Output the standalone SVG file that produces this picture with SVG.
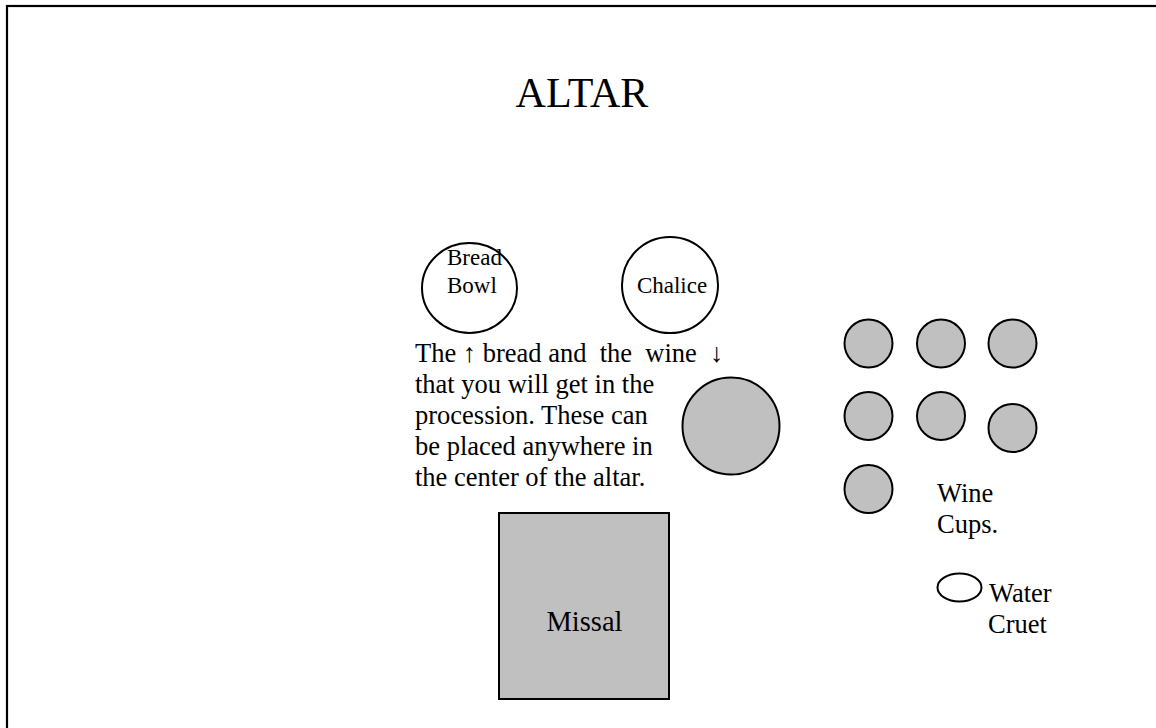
<svg xmlns="http://www.w3.org/2000/svg" width="1156" height="728" viewBox="0 0 1156 728">
<style>
  .t { font-family: "Liberation Serif", "Times New Roman", serif; fill: #000; }
  .body { font-size: 26.5px; white-space: pre; }
  .lbl { font-size: 23px; }
  .plain { fill: #fff; stroke: #000; stroke-width: 2; }
  .gray { fill: #c0c0c0; stroke: #000; stroke-width: 2; }
</style>
<rect width="1156" height="728" fill="#fff"/>
<g id="frame">
  <rect x="7" y="6" width="1300" height="900" fill="none" stroke="#000" stroke-width="2.2"/>
</g>
<g id="title">
  <text class="t" x="582" y="107" font-size="42" text-anchor="middle">ALTAR</text>
</g>
<g id="bread-bowl">
  <ellipse class="plain" cx="469.5" cy="288" rx="47.5" ry="45"/>
  <text class="t lbl" x="447" y="265">Bread</text>
  <text class="t lbl" x="447" y="293">Bowl</text>
</g>
<g id="chalice">
  <circle class="plain" cx="670" cy="285" r="48"/>
  <text class="t lbl" x="672" y="293" text-anchor="middle">Chalice</text>
</g>
<g id="note">
  <text class="t body" x="415" y="362">The ↑ bread and  the  wine  ↓</text>
  <text class="t body" x="415" y="393">that you will get in the</text>
  <text class="t body" x="415" y="424">procession. These can</text>
  <text class="t body" x="415" y="455">be placed anywhere in</text>
  <text class="t body" x="415" y="486">the center of the altar.</text>
</g>
<g id="paten">
  <circle class="gray" cx="731" cy="426" r="48.5"/>
</g>
<g id="wine-cups">
  <circle class="gray" cx="868.5" cy="343.5" r="24"/>
  <circle class="gray" cx="941" cy="343.5" r="24"/>
  <circle class="gray" cx="1012.5" cy="343.5" r="24"/>
  <circle class="gray" cx="868.5" cy="416" r="24"/>
  <circle class="gray" cx="941" cy="416" r="24"/>
  <circle class="gray" cx="1012.5" cy="428" r="24"/>
  <circle class="gray" cx="868.5" cy="489" r="24"/>
  <text class="t body" x="937" y="502">Wine</text>
  <text class="t body" x="937" y="533">Cups.</text>
</g>
<g id="water-cruet">
  <ellipse class="plain" cx="959.5" cy="587.5" rx="22" ry="14"/>
  <text class="t body" x="989" y="602">Water</text>
  <text class="t body" x="988" y="633">Cruet</text>
</g>
<g id="missal">
  <rect class="gray" x="499" y="513" width="170" height="186"/>
  <text class="t" x="584.5" y="631" font-size="28.5" text-anchor="middle">Missal</text>
</g>
<g id="connectors"></g>
</svg>
